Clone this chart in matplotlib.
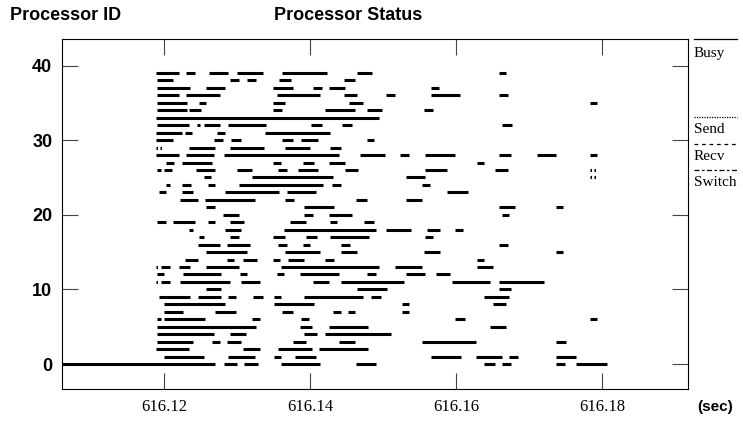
import matplotlib
matplotlib.use("Agg")
import matplotlib.pyplot as plt
from matplotlib.lines import Line2D

# all segment times are in ms after T0 (seconds)
T0 = 616.1

busy = {
    39: [(18.9, 22.0), (23.0, 24.2), (26.2, 28.8), (30.0, 33.5), (36.2, 42.3), (46.4, 48.5), (65.9, 66.9)],
    38: [(19.0, 21.2), (29.0, 30.2), (31.4, 32.6), (35.8, 37.4), (44.6, 46.2)],
    37: [(19.0, 23.6), (25.8, 28.4), (34.9, 37.6), (40.4, 41.6), (42.6, 44.8), (56.6, 57.7)],
    36: [(19.0, 22.0), (23.0, 27.6), (35.4, 41.4), (44.6, 46.4), (50.4, 51.7), (56.6, 60.5), (65.9, 67.1)],
    35: [(19.0, 23.2), (24.8, 25.8), (34.9, 36.5), (45.3, 47.2), (78.3, 79.3)],
    34: [(19.0, 23.1), (23.4, 25.0), (34.9, 36.2), (42.1, 46.2), (47.8, 49.9), (55.6, 56.9)],
    33: [(18.9, 49.5)],
    32: [(19.0, 23.4), (24.5, 24.9), (25.4, 27.6), (28.8, 34.0), (40.1, 41.6), (44.4, 45.8), (66.3, 67.7)],
    31: [(18.9, 22.4), (22.8, 23.8), (27.2, 28.3), (33.8, 42.8)],
    30: [(18.9, 21.2), (26.9, 28.1), (29.2, 30.6), (36.2, 37.7), (38.8, 41.1), (47.8, 48.7)],
    29: [(23.4, 27.0), (29.0, 33.7), (36.6, 40.0), (42.8, 44.2)],
    28: [(18.9, 22.0), (23.0, 26.8), (28.2, 44.0), (46.8, 50.3), (52.3, 53.6), (55.8, 59.9), (65.9, 67.5),
         (71.1, 73.7), (78.3, 79.3)],
    27: [(20.2, 21.4), (22.4, 26.6), (34.9, 36.0), (39.0, 40.6), (42.6, 44.8), (62.9, 63.9)],
    26: [(19.0, 19.6), (20.0, 21.1), (24.4, 27.0), (30.0, 32.0), (35.6, 36.9), (38.4, 41.1), (44.8, 46.6),
         (55.8, 58.7), (65.3, 67.1)],
    25: [(25.4, 26.4), (32.0, 43.2), (53.2, 55.8)],
    24: [(20.2, 20.8), (22.4, 23.7), (26.0, 27.0), (30.2, 41.8), (43.0, 44.3), (55.3, 56.5)],
    23: [(19.3, 20.2), (22.4, 24.0), (28.4, 35.8), (36.8, 40.8), (58.7, 61.6)],
    22: [(22.2, 24.6), (25.6, 32.4), (36.6, 37.8), (46.3, 47.8), (53.2, 55.3)],
    21: [(25.8, 27.0), (39.2, 43.3), (65.9, 68.1), (73.7, 74.7)],
    20: [(28.0, 30.2), (39.2, 40.4), (42.6, 45.8), (66.3, 67.3)],
    19: [(19.0, 20.2), (21.2, 24.2), (26.0, 27.0), (29.0, 31.0), (37.2, 39.4), (42.7, 43.7), (47.4, 48.7)],
    18: [(23.4, 24.0), (28.4, 30.6), (36.4, 49.0), (50.4, 53.8), (56.0, 57.8), (59.8, 60.9)],
    17: [(24.8, 25.4), (29.0, 30.2), (34.9, 36.6), (39.4, 41.0), (42.7, 48.1), (55.8, 56.9)],
    16: [(24.6, 27.6), (28.6, 31.8), (35.6, 36.9), (39.0, 40.0), (44.3, 45.5), (65.9, 67.1)],
    15: [(25.8, 31.4), (36.6, 41.4), (44.3, 46.5), (55.6, 57.8), (73.7, 74.7)],
    14: [(22.8, 24.6), (28.6, 29.6), (30.8, 32.7), (34.9, 35.9), (37.0, 39.2), (42.1, 43.3), (62.9, 63.9)],
    13: [(19.6, 20.8), (22.0, 23.6), (25.8, 30.2), (36.0, 49.4), (51.6, 55.3), (62.9, 65.1)],
    12: [(19.0, 20.0), (22.6, 27.8), (30.4, 31.4), (35.4, 36.4), (38.6, 44.0), (47.8, 49.1), (53.2, 55.8),
         (57.2, 59.2)],
    11: [(19.6, 20.8), (22.2, 29.0), (30.6, 33.2), (40.4, 42.6), (44.3, 52.9), (59.4, 64.7), (65.9, 72.1)],
    10: [(25.8, 27.8), (46.5, 50.5), (65.9, 67.5)],
    9: [(19.3, 23.6), (24.6, 27.8), (28.8, 29.8), (32.2, 33.6), (35.0, 36.0), (39.2, 47.2), (48.4, 49.7),
        (63.9, 67.3)],
    8: [(20.0, 28.4), (35.0, 40.6), (52.6, 53.5), (65.1, 66.9)],
    7: [(20.0, 22.6), (27.0, 29.8), (36.2, 37.6), (43.2, 44.2), (45.2, 46.2), (52.6, 53.5)],
    6: [(19.0, 19.6), (20.0, 25.6), (32.0, 33.2), (38.8, 39.8), (59.8, 61.3), (78.3, 79.3)],
    5: [(19.0, 32.6), (38.6, 40.2), (42.6, 47.9), (64.7, 66.9)],
    4: [(19.0, 26.8), (29.0, 31.2), (39.2, 41.0), (42.0, 51.1)],
    3: [(19.0, 24.0), (26.6, 27.6), (28.6, 30.6), (37.6, 39.4), (44.0, 46.2), (55.3, 62.7), (73.7, 75.1)],
    2: [(18.9, 23.4), (30.8, 33.2), (35.6, 40.2), (41.2, 47.9)],
    1: [(20.0, 25.4), (28.8, 32.4), (35.0, 36.0), (38.0, 40.8), (56.6, 60.7), (62.7, 66.3), (67.3, 68.5),
        (73.7, 76.5)],
    0: [(0.0, 27.0), (28.2, 30.0), (31.0, 32.8), (36.0, 41.4), (46.3, 49.0), (63.9, 65.3), (66.3, 67.5),
        (73.7, 74.9), (76.5, 80.7)],
}

send = {
    29: [(18.9, 19.7)],
    26: [(78.3, 79.3)],
    25: [(78.3, 79.3)],
    13: [(18.9, 19.5)],
    11: [(18.9, 19.5)],
}

x_ticks = [616.12, 616.14, 616.16, 616.18]
y_ticks = [0, 10, 20, 30, 40]
legend_labels = ["Busy", "Send", "Recv", "Switch"]
legend_styles = ["-", (0, (1, 1)), (0, (3, 3)), (0, (4, 2, 2, 2))]

W, H = 743, 421
SANS = "Liberation Sans"
SERIF = "Liberation Serif"

fig = plt.figure(figsize=(W / 100, H / 100), dpi=100)
ax = fig.add_axes([62 / W, 32 / H, 626 / W, 350 / H])

for p, segs in busy.items():
    for s, e in segs:
        ax.hlines(p, T0 + s / 1000, T0 + e / 1000, color="black", lw=2.2)

for p, segs in send.items():
    for s, e in segs:
        ax.hlines(p, T0 + s / 1000, T0 + e / 1000, color="black", lw=2.2,
                  linestyles=[(0, (0.5, 0.8))])

ax.set_xlim(616.106, 616.1918)
ax.set_ylim(-3.35, 43.56)

ax.set_xticks(x_ticks)
ax.set_xticklabels([f"{v:.2f}" for v in x_ticks], fontfamily=SERIF, fontsize=12)
ax.set_yticks(y_ticks)
ax.set_yticklabels([str(v) for v in y_ticks], fontfamily=SANS, fontsize=13, fontweight="bold")
ax.tick_params(axis="both", direction="in", length=11.5, width=0.8,
               top=True, right=True, colors="#444444", labelcolor="black")
ax.tick_params(axis="y", pad=7)
ax.tick_params(axis="x", pad=7)
for sp in ax.spines.values():
    sp.set_linewidth(0.8)

# titles
fig.text(10 / W, 1 - 16 / H, "Processor ID", fontfamily=SANS, fontsize=13,
         fontweight="bold", va="center", ha="left")
fig.text(274 / W, 1 - 16 / H, "Processor Status", fontfamily=SANS, fontsize=13,
         fontweight="bold", va="center", ha="left")
fig.text(697 / W, 1 - 407 / H, "(sec)", fontfamily=SANS, fontsize=11,
         fontweight="bold", va="center", ha="left")

# legend at right, outside the axes
line_y = [39, 117, 144, 170]
text_y = [54, 130, 157, 183]
for lab, ls, ly, ty in zip(legend_labels, legend_styles, line_y, text_y):
    fig.add_artist(Line2D([694 / W, 737 / W], [1 - ly / H] * 2, transform=fig.transFigure,
                          color="black", lw=0.9, linestyle=ls))
    fig.text(694 / W, 1 - ty / H, lab, fontfamily=SERIF, fontsize=11, va="center", ha="left")

fig.savefig("out.png", dpi=100)
